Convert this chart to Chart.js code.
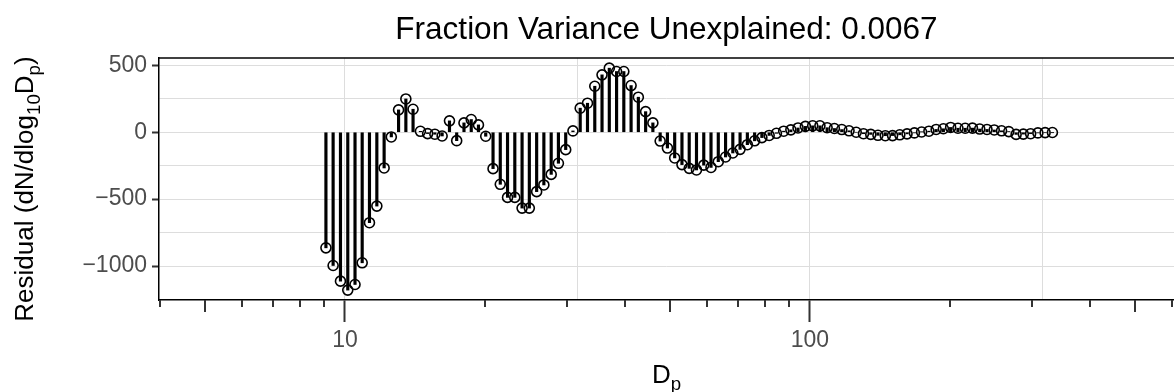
<!DOCTYPE html>
<html>
<head>
<meta charset="utf-8">
<script src="https://cdn.jsdelivr.net/npm/chart.js@4.4.0/dist/chart.umd.min.js"></script>
<style>
html,body{margin:0;padding:0;background:#ffffff;}
#wrap{width:1174px;height:392px;}
</style>
</head>
<body>
<div id="wrap"><canvas id="c" width="1174" height="392"></canvas></div>
<script>
// ---- data ----
const diameters = [
  9.10, 9.43, 9.78, 10.14, 10.51, 10.89, 11.29, 11.71, 12.14, 12.58,
  13.04, 13.52, 14.01, 14.53, 15.06, 15.61, 16.18, 16.78, 17.39, 18.03,
  18.69, 19.37, 20.08, 20.82, 21.58, 22.37, 23.19, 24.04, 24.92, 25.84,
  26.78, 27.77, 28.78, 29.84, 30.93, 32.06, 33.24, 34.46, 35.72, 37.03,
  38.39, 39.79, 41.25, 42.76, 44.33, 45.95, 47.64, 49.38, 51.19, 53.07,
  55.01, 57.03, 59.12, 61.28, 63.53, 65.86, 68.27, 70.77, 73.37, 76.06,
  78.84, 81.73, 84.73, 87.83, 91.0, 94.3, 97.8, 101.4, 105.1, 108.9,
  112.9, 117.1, 121.4, 125.8, 130.4, 135.2, 140.1, 145.3, 150.6, 156.1,
  161.8, 167.8, 173.9, 180.3, 186.9, 193.7, 200.8, 208.2, 215.8, 223.7,
  231.9, 240.4, 249.2, 258.4, 267.8, 277.7, 287.8, 298.4, 309.3, 320.6,
  332.4
];
const residuals = [
  -864, -996, -1113, -1180, -1138, -976, -676, -552, -267, -35,
  167, 249, 172, 7, -10, -15, -28, 85, -63, 70,
  95, 55, -30, -272, -389, -487, -487, -567, -567, -444,
  -394, -315, -232, -130, 10, 180, 217, 344, 429, 479,
  454, 454, 349, 262, 154, 70, -66, -118, -192, -242,
  -270, -282, -246, -263, -220, -185, -155, -128, -93, -64,
  -40, -24, -8, 8, 18, 32, 44, 48, 48, 34,
  28, 20, 11, 0, -11, -16, -23, -26, -25, -19,
  -12, -5, 2, 8, 21, 26, 36, 30, 30, 31,
  24, 21, 17, 11, 5, -16, -14, -11, -5, -3,
  -2
];
const yTickValues = [-1000, -750, -500, -250, 0, 250, 500];
const yTickLabelled = [-1000, -500, 0, 500];
const xGridValues = [10, 31.6228, 100, 316.228];
const xTickLabelled = [10, 100];
const xLogTicksShort = [4, 6, 7, 8, 9, 20, 30, 40, 60, 70, 80, 90, 200, 300, 400, 600];
const xLogTicksMid = [5, 50, 500];
const chartTitle = 'Fraction Variance Unexplained: 0.0067';
const yTitleParts = [
  {t: 'Residual (dN/dlog', sub: false},
  {t: '10', sub: true},
  {t: 'D', sub: false},
  {t: 'p', sub: true},
  {t: ')', sub: false}
];
const xTitleParts = [{t: 'D', sub: false}, {t: 'p', sub: true}];

// ---- drawing ----
const FAMILY = '"Liberation Sans", Arial, Helvetica, sans-serif';
const points = diameters.map((d, i) => ({x: d, y: residuals[i]}));

function fmtNum(v) {
  return v < 0 ? '\u2212' + Math.abs(v) : String(v);
}

function drawRich(ctx, parts, cx, baseY, size) {
  let total = 0;
  parts.forEach(p => {
    ctx.font = (p.sub ? size * 0.72 : size) + 'px ' + FAMILY;
    p.w = ctx.measureText(p.t).width;
    total += p.w;
  });
  let x = cx - total / 2;
  parts.forEach(p => {
    ctx.font = (p.sub ? size * 0.72 : size) + 'px ' + FAMILY;
    ctx.fillText(p.t, x, baseY + (p.sub ? size * 0.28 : 0));
    x += p.w;
  });
}

const decor = {
  id: 'decor',
  afterDraw(chart) {
    const ctx = chart.ctx;
    const a = chart.chartArea;
    const xs = chart.scales.x;
    ctx.save();
    // panel top border
    ctx.strokeStyle = '#000000';
    ctx.lineWidth = 1.5;
    ctx.beginPath();
    ctx.moveTo(a.left, a.top);
    ctx.lineTo(a.right, a.top);
    ctx.stroke();
    // log ticks
    ctx.strokeStyle = '#333333';
    ctx.lineWidth = 2;
    const tick = (v, len) => {
      const px = Math.round(xs.getPixelForValue(v));
      ctx.beginPath();
      ctx.moveTo(px, a.bottom);
      ctx.lineTo(px, a.bottom + len);
      ctx.stroke();
    };
    xLogTicksShort.forEach(v => tick(v, 7));
    xLogTicksMid.forEach(v => tick(v, 12));
    // title
    ctx.fillStyle = '#000000';
    ctx.textAlign = 'left';
    ctx.textBaseline = 'alphabetic';
    drawRich(ctx, [{t: chartTitle, sub: false}], (a.left + a.right) / 2, 39, 31.5);
    // x title
    drawRich(ctx, xTitleParts, (a.left + a.right) / 2, 383, 26);
    // y title
    ctx.translate(33, 189);
    ctx.rotate(-Math.PI / 2);
    drawRich(ctx, yTitleParts, 0, 0, 26);
    ctx.restore();
  }
};

new Chart(document.getElementById('c'), {
  type: 'scatter',
  data: {
    datasets: [
      {
        type: 'scatter',
        data: points,
        pointRadius: 5,
        pointHoverRadius: 5,
        pointBorderWidth: 1.6,
        borderColor: '#000000',
        backgroundColor: 'rgba(0,0,0,0)',
        showLine: false,
        order: 0
      },
      {
        type: 'bar',
        data: points,
        backgroundColor: '#000000',
        borderWidth: 0,
        barThickness: 2.5,
        order: 1
      }
    ]
  },
  options: {
    responsive: false,
    devicePixelRatio: 1,
    animation: false,
    events: [],
    layout: {autoPadding: false, padding: {top: 58, right: 0, bottom: 0, left: 0}},
    plugins: {legend: {display: false}, tooltip: {enabled: false}, title: {display: false}},
    scales: {
      x: {
        type: 'logarithmic',
        position: 'bottom',
        min: 3.981,
        max: 607,
        offset: false,
        afterBuildTicks: s => { s.ticks = xGridValues.map(v => ({value: v})); },
        afterFit: s => { s.height = 92; },
        grid: {
          offset: false,
          color: '#DDDDDD',
          lineWidth: 1,
          drawTicks: true,
          tickLength: 22,
          tickWidth: 2,
          tickColor: c => (c.tick && xTickLabelled.includes(c.tick.value)) ? '#333333' : 'rgba(0,0,0,0)'
        },
        border: {display: true, color: '#000000', width: 1.5},
        ticks: {
          autoSkip: false,
          maxRotation: 0,
          padding: 5,
          color: '#4D4D4D',
          font: {family: FAMILY, size: 23},
          callback: v => xTickLabelled.includes(v) ? String(v) : ''
        }
      },
      y: {
        type: 'linear',
        min: -1254,
        max: 555,
        afterBuildTicks: s => { s.ticks = yTickValues.map(v => ({value: v})); },
        afterFit: s => { s.width = 159; },
        grid: {
          color: '#DDDDDD',
          lineWidth: 1,
          drawTicks: true,
          tickLength: 7,
          tickWidth: 2,
          tickColor: c => (c.tick && yTickLabelled.includes(c.tick.value)) ? '#333333' : 'rgba(0,0,0,0)'
        },
        border: {display: true, color: '#000000', width: 1.5},
        ticks: {
          autoSkip: false,
          padding: 5,
          color: '#4D4D4D',
          font: {family: FAMILY, size: 23},
          callback: v => yTickLabelled.includes(v) ? fmtNum(v) : ''
        }
      }
    }
  },
  plugins: [decor]
});
</script>
</body>
</html>
